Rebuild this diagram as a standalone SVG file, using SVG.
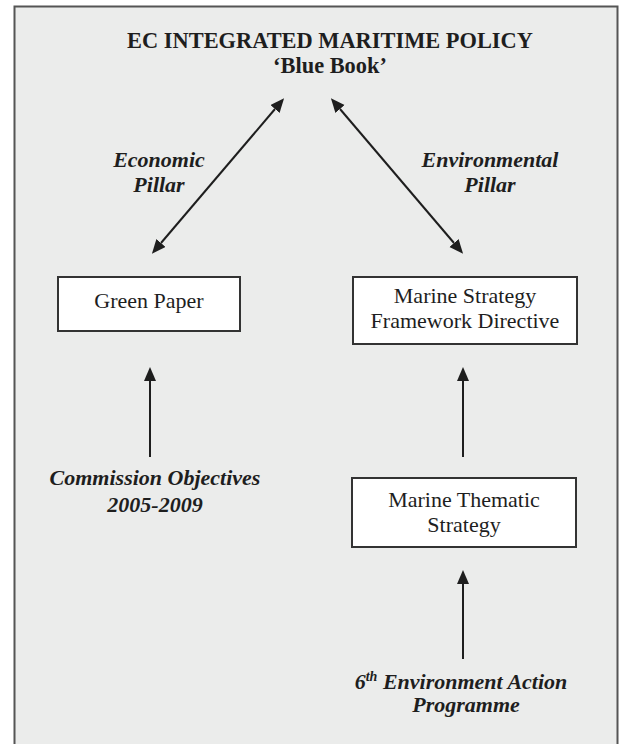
<svg xmlns="http://www.w3.org/2000/svg" width="622" height="744" viewBox="0 0 622 744">
<style>
text{font-family:"Liberation Serif","Times New Roman",serif;fill:#1e1e1e;text-anchor:middle}
.t{font-size:22.4px;font-weight:bold}
.n{font-size:22px}
.i{font-size:22px;font-weight:bold;font-style:italic}
.box{fill:#fff;stroke:#333;stroke-width:2}
.c{stroke:#1e1e1e;stroke-width:2;fill:none}
</style>
<defs>
<marker id="ah" markerUnits="userSpaceOnUse" markerWidth="16" markerHeight="14" refX="0" refY="6" orient="auto-start-reverse">
<path d="M0,0 L14,6 L0,12 z" fill="#1e1e1e"/>
</marker>
</defs>
<rect x="14.5" y="6.5" width="603" height="760" fill="#ebeceb" stroke="#555" stroke-width="2"/>
<g id="title">
<text class="t" x="330" y="48">EC INTEGRATED MARITIME POLICY</text>
<text class="t" x="330" y="73">‘Blue Book’</text>
</g>
<g id="connectors">
<line class="c" x1="161" y1="243" x2="275" y2="109" marker-start="url(#ah)" marker-end="url(#ah)"/>
<line class="c" x1="340" y1="109" x2="454" y2="243" marker-start="url(#ah)" marker-end="url(#ah)"/>
<line class="c" x1="150" y1="457" x2="150" y2="381" marker-end="url(#ah)"/>
<line class="c" x1="463" y1="457" x2="463" y2="381" marker-end="url(#ah)"/>
<line class="c" x1="463" y1="659" x2="463" y2="584" marker-end="url(#ah)"/>
</g>
<g id="economic-label">
<text class="i" x="159" y="167">Economic</text>
<text class="i" x="159" y="192">Pillar</text>
</g>
<g id="environmental-label">
<text class="i" x="490" y="167">Environmental</text>
<text class="i" x="490" y="192">Pillar</text>
</g>
<g id="green-paper">
<rect class="box" x="58" y="277" width="182" height="54"/>
<text class="n" x="149" y="308">Green Paper</text>
</g>
<g id="msfd">
<rect class="box" x="353" y="277" width="224" height="67"/>
<text class="n" x="465" y="303">Marine Strategy</text>
<text class="n" x="465" y="328">Framework Directive</text>
</g>
<g id="commission">
<text class="i" x="155" y="485">Commission Objectives</text>
<text class="i" x="155" y="512">2005-2009</text>
</g>
<g id="mts">
<rect class="box" x="352" y="478" width="224" height="69"/>
<text class="n" x="464" y="507">Marine Thematic</text>
<text class="n" x="464" y="532">Strategy</text>
</g>
<g id="eap">
<text class="i" x="461" y="689">6<tspan font-size="14" dy="-8">th</tspan><tspan dy="8"> Environment Action</tspan></text>
<text class="i" x="466" y="712">Programme</text>
</g>
</svg>
